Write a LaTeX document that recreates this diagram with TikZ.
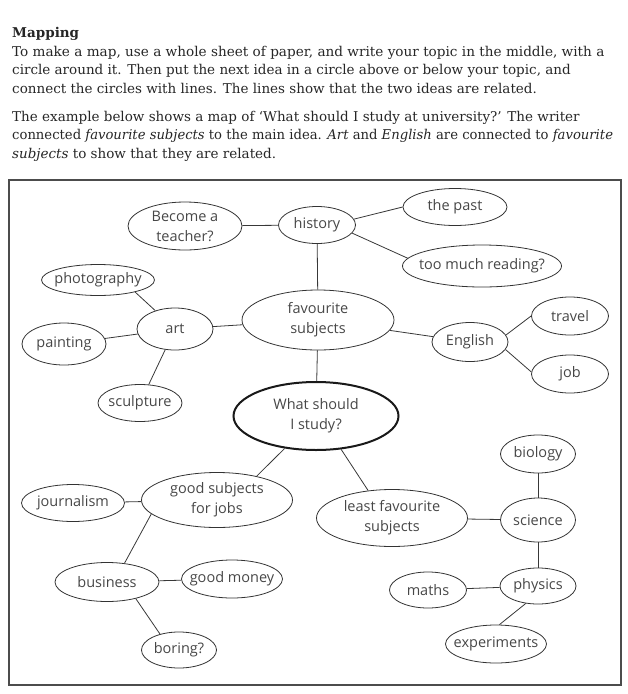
\documentclass[tikz,border=0pt]{standalone}
\usepackage{fontspec}
\setmainfont{DejaVu Serif}
\newfontfamily\handfont{Open Sans}
\usetikzlibrary{shapes.geometric}
\tikzset{
  idea/.style 2 args={ellipse, draw=black!80, line width=0.8pt, inner sep=0pt, minimum width=#1, minimum height=#2},
  lbl/.style={font=\handfont\fontsize{14.5}{20}\selectfont, text=black!72, align=center, inner sep=0pt},
  link/.style={draw=black!78, line width=0.8pt},
  hline/.style={anchor=base west, inner sep=0pt, font=\fontsize{13.5}{18}\selectfont, text=black!85},
  frame/.style={draw=black!70, line width=1.1pt}
}
\begin{document}
\begin{tikzpicture}[x=1pt,y=-1pt]
\useasboundingbox (0,0) rectangle (628,694);
% header text
\node[hline] (h0) at (12,37) {\bfseries Mapping};
\node[hline] (h1) at (12,56) {\scalebox{1.008}[1]{To make a map, use a whole sheet of paper, and write your topic in the middle, with a}};
\node[hline] (h2) at (12,74.5) {circle around it. Then put the next idea in a circle above or below your topic, and};
\node[hline] (h3) at (12,93) {connect the circles with lines. The lines show that the two ideas are related.};
\node[hline] (h4) at (12,121) {The example below shows a map of ‘What should I study at university?’ The writer};
\node[hline] (h5) at (12,139.5) {\scalebox{0.976}[1]{connected \textit{favourite subjects} to the main idea. \textit{Art} and \textit{English} are connected to \textit{favourite}}};
\node[hline] (h6) at (12,158) {\textit{subjects} to show that they are related.};
% frame
\draw[frame] (9,180) rectangle (621,685);
% ideas
\node[idea={114}{48}, label={[lbl]center:{Become a\\teacher?}}] (teacher) at (185,226) {};
\node[idea={77}{37}, label={[lbl]center:history}] (history) at (317,225) {};
\node[idea={104}{37}, label={[lbl]center:the past}] (past) at (455,207) {};
\node[idea={159}{42}, label={[lbl]center:too much reading?}] (reading) at (482,266) {};
\node[idea={113}{31}, label={[lbl]center:photography}] (photo) at (98,280) {};
\node[idea={76}{42}, label={[lbl]center:art}] (art) at (175,329) {};
\node[idea={152}{60}, label={[lbl]center:{favourite\\subjects}}] (fav) at (318,320) {};
\node[idea={84}{42}, label={[lbl]center:painting}] (painting) at (64,344) {};
\node[idea={84}{37}, label={[lbl]center:sculpture}] (sculpture) at (140,403) {};
\node[idea={165}{68}, line width=2pt, draw=black!90, label={[lbl]center:{What should\\I study?}}] (what) at (316,416) {};
\node[idea={76}{39}, label={[lbl]center:English}] (english) at (470,342) {};
\node[idea={77}{38}, label={[lbl]center:travel}] (travel) at (570,316) {};
\node[idea={77}{38}, label={[lbl]center:job}] (job) at (570,374) {};
\node[idea={151}{55}, label={[lbl]center:{good subjects\\for jobs}}] (good) at (217,500) {};
\node[idea={103}{37}, label={[lbl]center:journalism}] (journalism) at (73,503) {};
\node[idea={104}{39}, label={[lbl]center:business}] (business) at (107,582) {};
\node[idea={101}{38}, label={[lbl]center:good money}] (money) at (232,579) {};
\node[idea={75}{36}, label={[lbl]center:boring?}] (boring) at (179,650) {};
\node[idea={75}{38}, label={[lbl]center:biology}] (biology) at (538,454) {};
\node[idea={151}{57}, label={[lbl]center:{least favourite\\subjects}}] (least) at (392,518) {};
\node[idea={75}{44}, label={[lbl]center:science}] (science) at (538,520) {};
\node[idea={76}{36}, label={[lbl]center:physics}] (physics) at (538,586) {};
\node[idea={77}{36}, label={[lbl]center:maths}] (maths) at (428,590) {};
\node[idea={101}{38}, label={[lbl]center:experiments}] (experiments) at (496,644) {};
% links
\draw[link] (teacher) -- (history);
\draw[link] (history.9) -- (past.180);
\draw[link] (history.-13) -- (reading.174);
\draw[link] (history) -- (fav);
\draw[link] (photo.-18) -- (art.137);
\draw[link] (painting) -- (art);
\draw[link] (sculpture) -- (art);
\draw[link] (art) -- (fav);
\draw[link] (fav) -- (english);
\draw[link] (english.11) -- (travel.180);
\draw[link] (english.-12) -- (job.177);
\draw[link] (fav) -- (what);
\draw[link] (what.226) -- (good.31);
\draw[link] (what.307) -- (least.131);
\draw[link] (journalism) -- (good);
\draw[link] (good.192) -- (business.47);
\draw[link] (business) -- (money);
\draw[link] (business.-30) -- (boring.140);
\draw[link] (least) -- (science);
\draw[link] (science) -- (biology);
\draw[link] (science) -- (physics);
\draw[link] (maths) -- (physics);
\draw[link] (physics.235) -- (experiments.80);
\end{tikzpicture}
\end{document}
